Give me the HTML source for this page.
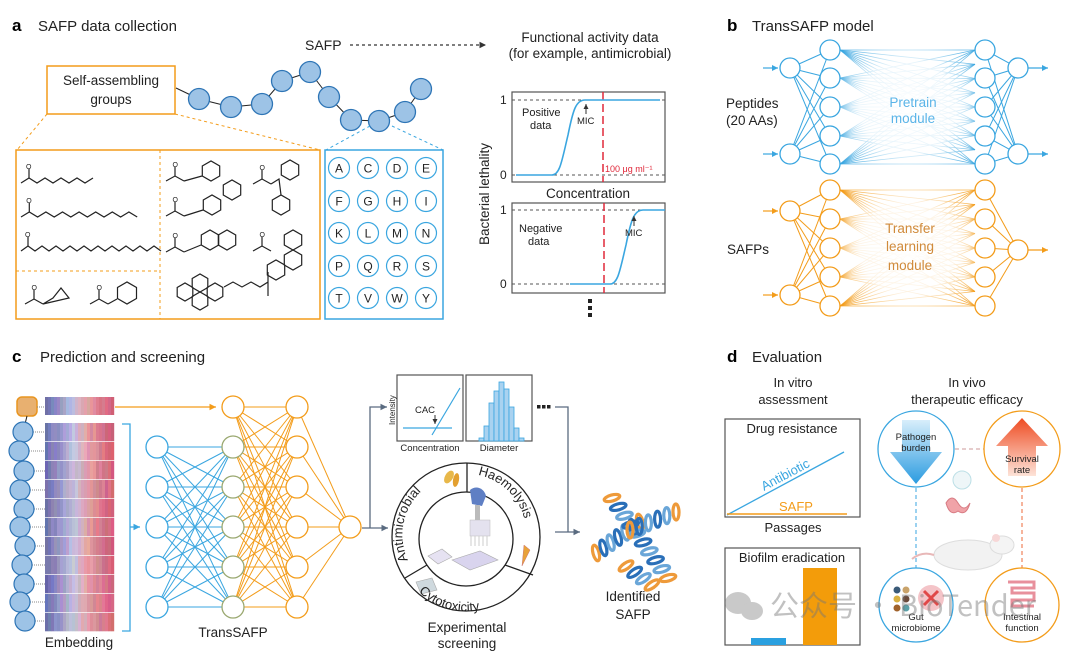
<!DOCTYPE html>
<html><head><meta charset="utf-8">
<style>
html,body{margin:0;padding:0;background:#fff;}
svg{display:block;font-family:"Liberation Sans","Noto Sans CJK SC",sans-serif;}
</style></head>
<body>
<svg id="s" width="1080" height="652" viewBox="0 0 1080 652" xmlns="http://www.w3.org/2000/svg">
<defs>
<radialGradient id="fadeB" cx="0.5" cy="0.5" r="0.5">
<stop offset="0" stop-color="#fff" stop-opacity="1"/><stop offset="0.6" stop-color="#fff" stop-opacity="0.85"/><stop offset="1" stop-color="#fff" stop-opacity="0"/>
</radialGradient>
<linearGradient id="downA" x1="0" y1="0" x2="0" y2="1"><stop offset="0" stop-color="#d8eefb"/><stop offset="1" stop-color="#2a9be0"/></linearGradient>
<linearGradient id="upA" x1="0" y1="1" x2="0" y2="0"><stop offset="0" stop-color="#fde3d8"/><stop offset="1" stop-color="#ee4b22"/></linearGradient>
<marker id="ab" markerWidth="6" markerHeight="6" refX="5" refY="3" orient="auto"><path d="M0,0.5 L5,3 L0,5.5z" fill="#3aa6e0"/></marker>
<marker id="ao" markerWidth="6" markerHeight="6" refX="5" refY="3" orient="auto"><path d="M0,0.5 L5,3 L0,5.5z" fill="#f39c1a"/></marker>
<marker id="ag" markerWidth="6" markerHeight="6" refX="5" refY="3" orient="auto"><path d="M0,0.5 L5,3 L0,5.5z" fill="#5a6b80"/></marker>
<marker id="ak" markerWidth="6" markerHeight="6" refX="5" refY="3" orient="auto"><path d="M0,0.5 L5,3 L0,5.5z" fill="#333"/></marker>
</defs>

<!-- Panel a -->
<text x="12" y="31" font-size="17" font-weight="bold">a</text>
<text x="38" y="31" font-size="15" fill="#222">SAFP data collection</text>
<text x="305" y="50" font-size="14" fill="#222">SAFP</text>
<line x1="350" y1="45" x2="486" y2="45" stroke="#333" stroke-width="1.3" stroke-dasharray="3,3" marker-end="url(#ak)"/>
<text x="590" y="42" font-size="13.5" fill="#222" text-anchor="middle">Functional activity data</text>
<text x="590" y="58" font-size="13.5" fill="#222" text-anchor="middle">(for example, antimicrobial)</text>
<rect x="47" y="66" width="128" height="48" fill="none" stroke="#f39c1a" stroke-width="1.5"/>
<text x="111" y="85" font-size="13.5" text-anchor="middle" fill="#222">Self-assembling</text>
<text x="111" y="104" font-size="13.5" text-anchor="middle" fill="#222">groups</text>
<g id="chain"></g>
<line x1="47" y1="114" x2="17" y2="150" stroke="#f39c1a" stroke-dasharray="3,3"/>
<line x1="175" y1="114" x2="320" y2="150" stroke="#f39c1a" stroke-dasharray="3,3"/>
<line x1="370" y1="126" x2="326" y2="150" stroke="#3aa6e0" stroke-dasharray="3,3"/>
<line x1="392" y1="126" x2="443" y2="150" stroke="#3aa6e0" stroke-dasharray="3,3"/>
<rect x="16" y="150" width="304" height="169" fill="none" stroke="#f39c1a" stroke-width="1.5"/>
<line x1="160" y1="150" x2="160" y2="319" stroke="#f39c1a" stroke-dasharray="3,3"/>
<line x1="16" y1="271" x2="160" y2="271" stroke="#f39c1a" stroke-dasharray="3,3"/>
<rect x="325" y="150" width="118" height="169" fill="none" stroke="#3aa6e0" stroke-width="1.5"/>
<g id="aa" font-size="12" text-anchor="middle" fill="#222"></g>
<g id="chem" fill="none" stroke="#222" stroke-width="1.2"></g>

<!-- plots -->
<g font-size="11" fill="#222">
<rect x="512" y="92" width="153" height="90" fill="none" stroke="#555" stroke-width="1.2"/>
<line x1="512" y1="100" x2="665" y2="100" stroke="#555" stroke-dasharray="3,3"/>
<line x1="512" y1="175" x2="665" y2="175" stroke="#555" stroke-dasharray="3,3"/>
<text x="500" y="104" font-size="12">1</text><text x="500" y="179" font-size="12">0</text>
<line x1="603" y1="92" x2="603" y2="182" stroke="#e0283a" stroke-width="1.5" stroke-dasharray="8,4"/>
<path d="M516,175 L552,175 C560,175 562,160 568,135 C573,110 576,100 585,100 L660,100" fill="none" stroke="#3aa6e0" stroke-width="1.6"/>
<text x="522" y="116">Positive</text><text x="530" y="129">data</text>
<line x1="586" y1="114" x2="586" y2="104" stroke="#333" marker-end="url(#ak)"/>
<text x="577" y="124" font-size="9.5">MIC</text>
<text x="605" y="172" font-size="9" fill="#e0283a">100 μg ml⁻¹</text>
<text x="588" y="198" font-size="13.5" text-anchor="middle">Concentration</text>
<rect x="512" y="203" width="153" height="90" fill="none" stroke="#555" stroke-width="1.2"/>
<line x1="512" y1="210" x2="665" y2="210" stroke="#555" stroke-dasharray="3,3"/>
<line x1="512" y1="284" x2="665" y2="284" stroke="#555" stroke-dasharray="3,3"/>
<text x="500" y="214" font-size="12">1</text><text x="500" y="288" font-size="12">0</text>
<line x1="604" y1="203" x2="604" y2="293" stroke="#e0283a" stroke-width="1.5" stroke-dasharray="8,4"/>
<path d="M570,284 L610,284 C618,284 620,270 626,245 C631,220 634,210 643,210 L665,210" fill="none" stroke="#3aa6e0" stroke-width="1.6"/>
<text x="519" y="232">Negative</text><text x="528" y="245">data</text>
<line x1="634" y1="226" x2="634" y2="216" stroke="#333" marker-end="url(#ak)"/>
<text x="625" y="236" font-size="9.5">MIC</text>
<text transform="translate(489,245) rotate(-90)" font-size="13.5">Bacterial lethality</text>
<rect x="588" y="299" width="4" height="4" fill="#222"/><rect x="588" y="306" width="4" height="4" fill="#222"/><rect x="588" y="313" width="4" height="4" fill="#222"/>
</g>

<!-- Panel b -->
<text x="727" y="31" font-size="17" font-weight="bold">b</text>
<text x="752" y="31" font-size="15" fill="#222">TransSAFP model</text>
<g id="netb"></g>
<text x="726" y="108" font-size="13.5" fill="#222">Peptides</text>
<text x="726" y="125" font-size="13.5" fill="#222">(20 AAs)</text>
<text x="913" y="107" font-size="13.5" fill="#5ab4e8" text-anchor="middle">Pretrain</text>
<text x="913" y="123" font-size="13.5" fill="#5ab4e8" text-anchor="middle">module</text>
<text x="727" y="254" font-size="13.5" fill="#222">SAFPs</text>
<text x="910" y="233" font-size="13.5" fill="#d08a3a" text-anchor="middle">Transfer</text>
<text x="910" y="251" font-size="13.5" fill="#d08a3a" text-anchor="middle">learning</text>
<text x="910" y="270" font-size="13.5" fill="#d08a3a" text-anchor="middle">module</text>

<!-- Panel c -->
<text x="12" y="362" font-size="17" font-weight="bold">c</text>
<text x="40" y="362" font-size="15" fill="#222">Prediction and screening</text>
<rect x="17" y="397" width="20" height="19" rx="5" fill="#e8b070" stroke="#e89520" stroke-width="1.5"/>
<line x1="37" y1="407" x2="45" y2="407" stroke="#888" stroke-dasharray="1,1"/>
<g id="heat"></g>
<g id="cchain"></g>
<path d="M122,424 L130,424 L130,631 L122,631" fill="none" stroke="#3aa6e0" stroke-width="1.3"/>
<line x1="130" y1="527" x2="140" y2="527" stroke="#3aa6e0" stroke-width="1.3" marker-end="url(#ab)"/>
<text x="79" y="647" font-size="13.5" text-anchor="middle" fill="#222">Embedding</text>
<line x1="115" y1="407" x2="216" y2="407" stroke="#f39c1a" stroke-width="1.3" marker-end="url(#ao)"/>
<g id="netc"></g>
<text x="233" y="637" font-size="13.5" text-anchor="middle" fill="#222">TransSAFP</text>
<path d="M362,528 L388,528" stroke="#5a6b80" stroke-width="1.3" marker-end="url(#ag)"/>
<path d="M370,528 L370,407 L387,407" fill="none" stroke="#5a6b80" stroke-width="1.3" marker-end="url(#ag)"/>
<!-- charts -->
<rect x="397" y="375" width="66" height="66" fill="#fff" stroke="#555" stroke-width="1.2"/>
<rect x="466" y="375" width="66" height="66" fill="#fff" stroke="#555" stroke-width="1.2"/>
<text transform="translate(395,425) rotate(-90)" font-size="8" fill="#222">Intensity</text>
<line x1="403" y1="428" x2="452" y2="428" stroke="#3aa6e0" stroke-width="1.2"/>
<line x1="432" y1="435" x2="460" y2="388" stroke="#3aa6e0" stroke-width="1.2"/>
<text x="425" y="413" font-size="9.5" text-anchor="middle" fill="#222">CAC</text>
<line x1="435" y1="415" x2="435" y2="424" stroke="#333" marker-end="url(#ak)"/>
<g fill="#a9d2f0" stroke="#3aa6e0" stroke-width="0.8">
<rect x="479" y="438" width="5" height="3"/><rect x="484" y="426" width="5" height="15"/><rect x="489" y="403" width="5" height="38"/><rect x="494" y="391" width="5" height="50"/><rect x="499" y="382" width="5" height="59"/><rect x="504" y="389" width="5" height="52"/><rect x="509" y="407" width="5" height="34"/><rect x="514" y="428" width="5" height="13"/><rect x="519" y="438" width="5" height="3"/>
</g>
<text x="430" y="451" font-size="9.5" text-anchor="middle" fill="#222">Concentration</text>
<text x="499" y="451" font-size="9.5" text-anchor="middle" fill="#222">Diameter</text>
<rect x="537" y="405" width="3.5" height="3.5" fill="#222"/><rect x="542" y="405" width="3.5" height="3.5" fill="#222"/><rect x="547" y="405" width="3.5" height="3.5" fill="#222"/>
<path d="M555,407 L568,407 L568,532" fill="none" stroke="#5a6b80" stroke-width="1.3"/>
<line x1="555" y1="532" x2="580" y2="532" stroke="#5a6b80" stroke-width="1.3" marker-end="url(#ag)"/>
<!-- screening circle -->
<circle cx="466" cy="537" r="74" fill="#fff" stroke="#222" stroke-width="1.3"/>
<circle cx="466" cy="539" r="47" fill="#fff" stroke="#222" stroke-width="1.3"/>
<line x1="467" y1="463" x2="467" y2="492" stroke="#222" stroke-width="1.3"/>
<line x1="405" y1="578" x2="427" y2="565" stroke="#222" stroke-width="1.3"/>
<line x1="505" y1="565" x2="533" y2="575" stroke="#222" stroke-width="1.3"/>
<!-- lab image -->
<g>
<path d="M470,490 C476,485 484,488 486,496 L482,506 L472,504z" fill="#5f7fc4"/>
<rect x="475" y="505" width="5" height="18" fill="#bbb"/>
<rect x="470" y="520" width="20" height="16" fill="#e4e2ef" stroke="#bbb" stroke-width="0.5"/>
<path d="M471,536 L471,546 M475,536 L475,546 M479,536 L479,546 M483,536 L483,546 M487,536 L487,546" stroke="#ccc"/>
<path d="M452,560 L480,551 L498,560 L470,570z" fill="#d9d4ee" stroke="#aaa" stroke-width="0.6"/>
<path d="M428,556 L442,549 L452,557 L438,564z" fill="#e6e2f2" stroke="#aaa" stroke-width="0.6"/>
<path d="M416,582 L432,578 L437,590 L421,594z" fill="#cfd9de" stroke="#aaa" stroke-width="0.6"/>
<ellipse cx="449" cy="477" rx="4" ry="7" fill="#e8b84a" transform="rotate(30 449 477)"/>
<ellipse cx="456" cy="480" rx="3" ry="7" fill="#e3a030" transform="rotate(10 456 480)"/>
<path d="M524,545 L530,550 L522,566z" fill="#e8a23a" stroke="#c77" stroke-width="0.5"/>
</g>
<path id="arcL" d="M408,560 A60,60 0 0,1 458,475" fill="none"/>
<path id="arcR" d="M478,475 A60,60 0 0,1 526,540" fill="none"/>
<path id="arcB" d="M405,572 A67,67 0 0,0 527,572" fill="none"/>
<text font-size="13" fill="#222"><textPath href="#arcL">Antimicrobial</textPath></text>
<text font-size="13" fill="#222"><textPath href="#arcR">Haemolysis</textPath></text>
<text font-size="13" fill="#222"><textPath href="#arcB" startOffset="24">Cytotoxicity</textPath></text>
<text x="467" y="632" font-size="13.5" text-anchor="middle" fill="#222">Experimental</text>
<text x="467" y="648" font-size="13.5" text-anchor="middle" fill="#222">screening</text>
<g id="helix"></g>
<text x="633" y="601" font-size="13.5" text-anchor="middle" fill="#222">Identified</text>
<text x="633" y="619" font-size="13.5" text-anchor="middle" fill="#222">SAFP</text>

<!-- Panel d -->
<text x="727" y="362" font-size="17" font-weight="bold">d</text>
<text x="752" y="362" font-size="15" fill="#222">Evaluation</text>
<text x="793" y="387" font-size="13" text-anchor="middle" fill="#222">In vitro</text>
<text x="793" y="404" font-size="13" text-anchor="middle" fill="#222">assessment</text>
<text x="967" y="387" font-size="13" text-anchor="middle" fill="#222">In vivo</text>
<text x="967" y="404" font-size="13" text-anchor="middle" fill="#222">therapeutic efficacy</text>
<rect x="725" y="419" width="135" height="98" fill="none" stroke="#555" stroke-width="1.2"/>
<text x="792" y="433" font-size="13" text-anchor="middle" fill="#222">Drug resistance</text>
<line x1="727" y1="515" x2="844" y2="452" stroke="#3aa6e0" stroke-width="1.3"/>
<text transform="translate(764,491) rotate(-28)" font-size="13" fill="#3aa6e0">Antibiotic</text>
<line x1="727" y1="514" x2="847" y2="514" stroke="#f39c1a" stroke-width="1.5"/>
<text x="796" y="511" font-size="13" text-anchor="middle" fill="#f39c1a">SAFP</text>
<text x="793" y="532" font-size="13" text-anchor="middle" fill="#222">Passages</text>
<rect x="725" y="548" width="135" height="97" fill="none" stroke="#555" stroke-width="1.2"/>
<text x="792" y="562" font-size="13" text-anchor="middle" fill="#222">Biofilm eradication</text>
<rect x="751" y="638" width="35" height="7" fill="#2aa0e0"/>
<rect x="803" y="568" width="34" height="77" fill="#f39c0a"/>
<line x1="955" y1="449" x2="985" y2="449" stroke="#c99" stroke-dasharray="4,3"/>
<line x1="916" y1="488" x2="916" y2="568" stroke="#3aa6e0" stroke-dasharray="4,3"/>
<line x1="1022" y1="488" x2="1022" y2="568" stroke="#ee6a3a" stroke-dasharray="4,3"/>
<circle cx="916" cy="449" r="38" fill="#fff" stroke="#3aa6e0" stroke-width="1.3"/>
<path d="M902,420 L930,420 L930,452 L942,452 L916,484 L890,452 L902,452z" fill="url(#downA)"/>
<text x="916" y="440" font-size="9.5" text-anchor="middle" fill="#222">Pathogen</text>
<text x="916" y="451" font-size="9.5" text-anchor="middle" fill="#222">burden</text>
<circle cx="1022" cy="449" r="38" fill="#fff" stroke="#f39c1a" stroke-width="1.3"/>
<path d="M1008,476 L1036,476 L1036,446 L1048,446 L1022,418 L996,446 L1008,446z" fill="url(#upA)"/>
<text x="1022" y="462" font-size="9.5" text-anchor="middle" fill="#222">Survival</text>
<text x="1022" y="473" font-size="9.5" text-anchor="middle" fill="#222">rate</text>
<!-- mouse & intestine -->
<path d="M946,503 q6,-10 12,0 q6,10 12,0 q-4,14 -12,8 q-8,6 -12,-8z" fill="#f0a3a8" stroke="#d77a82" stroke-width="1"/>
<circle cx="962" cy="480" r="9" fill="#eef6f8" stroke="#bcdfe6"/>
<ellipse cx="968" cy="555" rx="34" ry="15" fill="#f2f2f2" stroke="#ddd"/>
<ellipse cx="1002" cy="545" rx="12" ry="9" fill="#f4f4f4" stroke="#ddd"/>
<circle cx="996" cy="538" r="4" fill="#f7d7d7"/>
<path d="M934,555 q-12,-4 -22,4" fill="none" stroke="#e8b8b8" stroke-width="2"/>
<circle cx="916" cy="605" r="37" fill="#fff" stroke="#3aa6e0" stroke-width="1.3"/>
<circle cx="931" cy="598" r="13" fill="#f4c4c8"/>
<path d="M924,591 L938,605 M938,591 L924,605" stroke="#e04848" stroke-width="3"/>
<g fill="#3a5a78"><circle cx="897" cy="590" r="3.5"/><circle cx="906" cy="590" r="3.5" fill="#c9a36a"/><circle cx="897" cy="599" r="3.5" fill="#d9b040"/><circle cx="906" cy="599" r="3.5" fill="#6a4a3a"/><circle cx="897" cy="608" r="3.5" fill="#a0622a"/><circle cx="906" cy="608" r="3.5" fill="#5aa0a8"/></g>
<text x="916" y="620" font-size="9.5" text-anchor="middle" fill="#222">Gut</text>
<text x="916" y="631" font-size="9.5" text-anchor="middle" fill="#222">microbiome</text>
<circle cx="1022" cy="605" r="37" fill="#fff" stroke="#f39c1a" stroke-width="1.3"/>
<path d="M1008,582 L1034,582 L1034,588 L1012,588 L1012,593 L1034,593 L1034,600 L1012,600 L1012,606 L1034,606" fill="none" stroke="#e8909c" stroke-width="3"/>
<text x="1022" y="620" font-size="9.5" text-anchor="middle" fill="#222">Intestinal</text>
<text x="1022" y="631" font-size="9.5" text-anchor="middle" fill="#222">function</text>
<!-- watermark -->
<g opacity="0.45">
<ellipse cx="738" cy="603" rx="13" ry="11" fill="#888"/>
<ellipse cx="752" cy="611" rx="11" ry="9" fill="#888"/>
<text x="770" y="616" font-size="29" fill="#777" font-family="'Noto Sans CJK SC',sans-serif">公众号 · BioTender</text>
</g>
</svg>
<script>
var NS="http://www.w3.org/2000/svg";
function el(p,t,a){var e=document.createElementNS(NS,t);for(var k in a)e.setAttribute(k,a[k]);p.appendChild(e);return e;}
function g(id){return document.getElementById(id);}
var ch=g("chain"),pts=[[199,99],[231,107],[262,104],[282,81],[310,72],[329,97],[351,120],[379,121],[405,112],[421,89]];
el(ch,"line",{x1:176,y1:88,x2:199,y2:99,stroke:"#222"});
for(var i=0;i<pts.length-1;i++)el(ch,"line",{x1:pts[i][0],y1:pts[i][1],x2:pts[i+1][0],y2:pts[i+1][1],stroke:"#222"});
pts.forEach(function(p){el(ch,"circle",{cx:p[0],cy:p[1],r:10.5,fill:"#9dc3e6",stroke:"#2e75b6","stroke-width":1.3});});
var L="ACDEFGHIKLMNPQRSTVWY",aa=g("aa");
for(var i=0;i<20;i++){var x=[339,368,397,426][i%4],y=[168,201,233,266,298][Math.floor(i/4)];
el(aa,"circle",{cx:x,cy:y,r:10.5,fill:"#fff",stroke:"#3aa6e0","stroke-width":1.2});
var t=el(aa,"text",{x:x,y:y+4.5});t.textContent=L[i];}
var cm=g("chem");
function zig(x,y,n,st){var d="M"+x+","+(y+5);for(var i=1;i<=n;i++)d+=" L"+(x+i*st)+","+(y+(i%2?0:5));el(cm,"path",{d:d});
el(cm,"line",{x1:x+st,y1:y,x2:x+st,y2:y-9});var t=el(cm,"text",{x:x+st-3,y:y-9,"font-size":7,fill:"#222",stroke:"none"});t.textContent="O";}
zig(21,178,9,8);zig(21,212,14,8.3);zig(21,246,20,7);
function hex(cx,cy,r,rot){var d="";for(var i=0;i<6;i++){var a=(rot||0)+Math.PI/6+i*Math.PI/3;d+=(i?"L":"M")+(cx+r*Math.cos(a)).toFixed(1)+","+(cy+r*Math.sin(a)).toFixed(1);}el(cm,"path",{d:d+"z"});}
function acyl(x,y){el(cm,"path",{d:"M"+x+","+(y+6)+" l9,-5 l9,5"});el(cm,"line",{x1:x+9,y1:y+1,x2:x+9,y2:y-8});var t=el(cm,"text",{x:x+6.5,y:y-8,"font-size":7,fill:"#222",stroke:"none"});t.textContent="O";}
acyl(166,175);hex(211,171,10);el(cm,"line",{x1:184,y1:181,x2:202,y2:176});
acyl(166,210);hex(212,205,10);hex(232,190,10);el(cm,"line",{x1:184,y1:216,x2:203,y2:210});
acyl(166,246);hex(210,240,10);hex(227,240,10);el(cm,"line",{x1:184,y1:252,x2:201,y2:245});
acyl(253,178);hex(290,170,10);hex(281,205,10);el(cm,"path",{d:"M271,184 l8,-5 l2,16"});
acyl(253,245);hex(293,240,10);hex(293,260,10);hex(276,270,10);
hex(200,283,9);hex(215,292,9);hex(200,301,9);hex(185,292,9);
el(cm,"path",{d:"M224,287 l9,-5 l9,5 l9,-5 l9,5 l8,-5 l0,-10 M268,282 l0,14"});
acyl(25,298);el(cm,"path",{d:"M43,304 l10,-6 l8,-10 l8,10z"});
acyl(90,298);el(cm,"line",{x1:108,y1:304,x2:117,y2:299});hex(127,293,11);
var nb=g("netb");
function net(col,inY,l2,outY){var xs=[790,830,985,1018];
inY.forEach(function(a){l2.forEach(function(b){el(nb,"line",{x1:xs[0],y1:a,x2:xs[1],y2:b,stroke:col,"stroke-width":1});});});
outY.forEach(function(a){l2.forEach(function(b){el(nb,"line",{x1:xs[3],y1:a,x2:xs[2],y2:b,stroke:col,"stroke-width":1});});});
l2.forEach(function(a){for(var k=0;k<9;k++){var b=l2[0]+(l2[4]-l2[0])*k/8;el(nb,"line",{x1:840,y1:a,x2:975,y2:b,stroke:col,"stroke-width":0.8,opacity:0.8});}});
el(nb,"ellipse",{cx:908,cy:(l2[0]+l2[4])/2,rx:80,ry:75,fill:"url(#fadeB)"});
inY.forEach(function(a){el(nb,"line",{x1:763,y1:a,x2:778,y2:a,stroke:col,"stroke-width":1.2,"marker-end":col=="#3aa6e0"?"url(#ab)":"url(#ao)"});});
outY.forEach(function(a){el(nb,"line",{x1:1028,y1:a,x2:1048,y2:a,stroke:col,"stroke-width":1.2,"marker-end":col=="#3aa6e0"?"url(#ab)":"url(#ao)"});});
inY.concat(outY).forEach(function(a,i){el(nb,"circle",{cx:i<inY.length?xs[0]:xs[3],cy:a,r:10,fill:"#fff",stroke:col,"stroke-width":1.3});});
l2.forEach(function(a){el(nb,"circle",{cx:xs[1],cy:a,r:10,fill:"#fff",stroke:col,"stroke-width":1.3});el(nb,"circle",{cx:xs[2],cy:a,r:10,fill:"#fff",stroke:col,"stroke-width":1.3});});}
net("#3aa6e0",[68,154],[50,78,107,136,164],[68,154]);
net("#f39c1a",[211,295],[190,219,248,277,306],[250]);
var hm=g("heat");var seed=7;function rnd(){seed=(seed*9301+49297)%233280;return seed/233280;}
function col(f){var c1=[112,110,176],c2=[196,192,222],c3=[226,160,168],c4=[208,92,118];var a,b,t;
if(f<0.4){a=c1;b=c2;t=f/0.4;}else if(f<0.6){a=c2;b=c3;t=(f-0.4)/0.2;}else{a=c3;b=c4;t=(f-0.6)/0.4;}
return "rgb("+a.map(function(v,i){return Math.round(v+(b[i]-v)*t+(rnd()-0.5)*26);}).join(",")+")";}
function strip(y,h){for(var x=45;x<113;x+=3){el(hm,"rect",{x:x,y:y,width:3.2,height:h,fill:col((x-45)/68)});}}
strip(397,18);for(var r=0;r<11;r++)strip(423+r*19,18.3);
var cc=g("cchain"),cy=[432,451,471,490,509,527,546,565,584,602,621],cx=[23,19,24,20,24,20,25,22,24,20,25];
el(cc,"line",{x1:27,y1:416,x2:23,y2:432,stroke:"#222"});
for(var i=0;i<11;i++){if(i<10)el(cc,"line",{x1:cx[i],y1:cy[i],x2:cx[i+1],y2:cy[i+1],stroke:"#222"});el(cc,"line",{x1:cx[i]+10,y1:cy[i],x2:45,y2:cy[i],stroke:"#888","stroke-dasharray":"1,1"});}
for(var i=0;i<11;i++)el(cc,"circle",{cx:cx[i],cy:cy[i],r:10,fill:"#9dc3e6",stroke:"#2e75b6","stroke-width":1.2});
var nc=g("netc"),b1=[447,487,527,567,607],m=[407,447,487,527,567,607];
b1.forEach(function(a){b1.forEach(function(b){el(nc,"line",{x1:157,y1:a,x2:233,y2:b,stroke:"#3aa6e0","stroke-width":1});});});
m.forEach(function(a){m.forEach(function(b){el(nc,"line",{x1:233,y1:a,x2:297,y2:b,stroke:"#f39c1a","stroke-width":1});});});
m.forEach(function(a){el(nc,"line",{x1:297,y1:a,x2:350,y2:527,stroke:"#f39c1a","stroke-width":1});});
b1.forEach(function(a){el(nc,"circle",{cx:157,cy:a,r:11,fill:"#fff",stroke:"#3aa6e0","stroke-width":1.3});});
m.forEach(function(a,i){el(nc,"circle",{cx:233,cy:a,r:11,fill:"#fff",stroke:i==0?"#f39c1a":"#9aa870","stroke-width":1.3});el(nc,"circle",{cx:297,cy:a,r:11,fill:"#fff",stroke:"#f39c1a","stroke-width":1.3});});
el(nc,"circle",{cx:350,cy:527,r:11,fill:"#fff",stroke:"#f39c1a","stroke-width":1.3});
// helix: coils as rotated ellipses along axis
var hx=g("helix");
function helix(x1,y1,x2,y2,n){var ang=Math.atan2(y2-y1,x2-x1)*180/Math.PI;
for(var i=0;i<=n;i++){var t=i/n,x=x1+(x2-x1)*t,y=y1+(y2-y1)*t;
var c=(i==0||i==n)?"#ee9a3a":(i%2?"#2a6fb8":"#6aa6d8");
el(hx,"ellipse",{cx:x,cy:y,rx:3,ry:8,fill:"none",stroke:c,"stroke-width":3.2,transform:"rotate("+(ang+20)+" "+x+" "+y+")"});}}
helix(596,553,640,522,6);helix(612,498,668,578,9);helix(630,530,676,512,5);helix(626,566,652,585,3);
</script>
</body></html>
